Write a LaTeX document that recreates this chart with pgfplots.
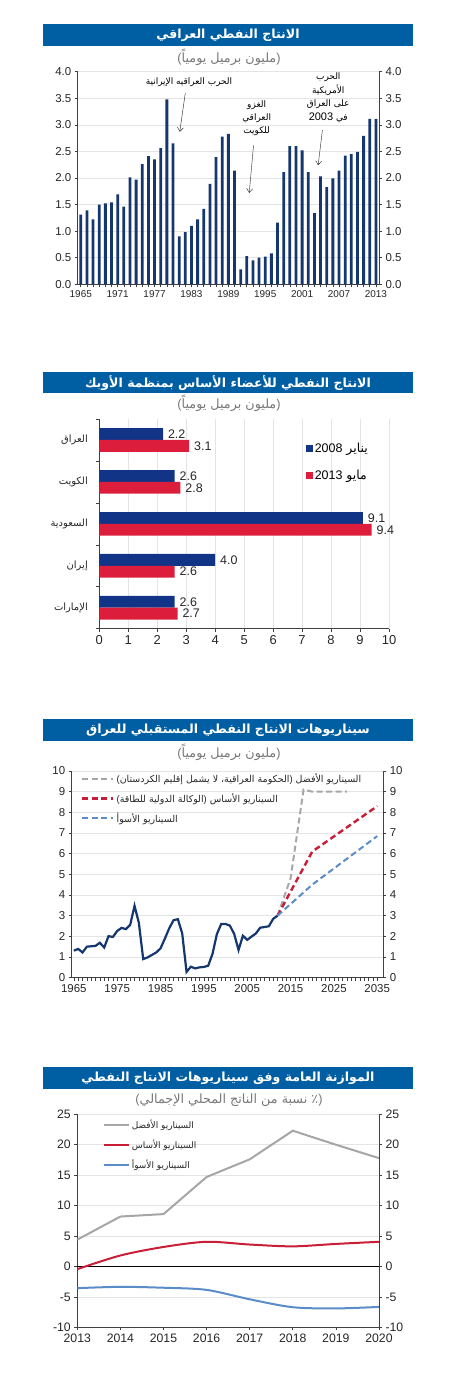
\documentclass[border=0pt]{standalone}
\usepackage{fontspec}
\setmainfont{Liberation Sans}
\newfontfamily\arabicfont[Script=Arabic]{DejaVu Sans}
\TeXXeTstate=1
\usepackage{pgfplots}
\usepackage{pgfplotstable}
\pgfplotsset{compat=1.18}
\usetikzlibrary{arrows.meta}

\definecolor{titleblue}{RGB}{0,94,162}
\definecolor{navy}{RGB}{22,54,110}
\definecolor{barblue}{RGB}{17,52,135}
\definecolor{barred}{RGB}{220,30,60}
\definecolor{gridc}{RGB}{228,228,228}
\definecolor{subgrey}{RGB}{120,120,120}
\definecolor{scgrey}{RGB}{166,166,166}
\definecolor{scred}{RGB}{200,30,55}
\definecolor{scblue}{RGB}{90,140,200}

\newcommand{\AR}[1]{{\arabicfont\beginR#1\endR}}
\newcommand{\LP}{{\rmfamily(}}
\newcommand{\RP}{{\rmfamily)}}
\newcommand{\titlefont}{\arabicfont\bfseries\fontsize{12.6}{15}\selectfont}
\newcommand{\subfont}{\fontsize{12.8}{15}\selectfont}

\pgfplotstableread{
year val
1965 1.31
1966 1.39
1967 1.22
1968 1.50
1969 1.52
1970 1.54
1971 1.69
1972 1.46
1973 2.01
1974 1.97
1975 2.26
1976 2.41
1977 2.35
1978 2.56
1979 3.48
1980 2.65
1981 0.90
1982 0.98
1983 1.10
1984 1.22
1985 1.42
1986 1.89
1987 2.39
1988 2.78
1989 2.83
1990 2.14
1991 0.28
1992 0.53
1993 0.45
1994 0.50
1995 0.52
1996 0.58
1997 1.16
1998 2.11
1999 2.60
2000 2.60
2001 2.52
2002 2.11
2003 1.34
2004 2.03
2005 1.83
2006 1.99
2007 2.14
2008 2.42
2009 2.45
2010 2.49
2011 2.79
2012 3.11
2013 3.11
}\dataA

\pgfplotstableread{
year val
1965 1.31
1966 1.39
1967 1.22
1968 1.50
1969 1.52
1970 1.54
1971 1.69
1972 1.46
1973 2.01
1974 1.97
1975 2.26
1976 2.41
1977 2.35
1978 2.56
1979 3.48
1980 2.65
1981 0.90
1982 0.98
1983 1.10
1984 1.22
1985 1.42
1986 1.89
1987 2.39
1988 2.78
1989 2.83
1990 2.14
1991 0.28
1992 0.53
1993 0.45
1994 0.50
1995 0.52
1996 0.58
1997 1.16
1998 2.11
1999 2.60
2000 2.60
2001 2.52
2002 2.11
2003 1.34
2004 2.03
2005 1.83
2006 1.99
2007 2.14
2008 2.42
2009 2.45
2010 2.49
2011 2.85
2012 3.00
}\dataHist

\pgfplotsset{
  base/.style={scale only axis, anchor=south west,
    axis line style={black!75, line width=0.6pt},
    tick style={black!75, line width=0.6pt},
    tick align=outside, major tick length=3bp, minor tick length=3bp,
    /pgf/number format/assume math mode=true,
    /pgf/number format/1000 sep={},
    ticklabel style={text=black!85},
    grid style={gridc, line width=0.5pt}},
  p1/.style={base, at={(77.7bp,1104.7bp)}, width=301.3bp, height=212.6bp,
    xmin=1964.5, xmax=2013.5, ymin=0, ymax=4,
    ytick={0,0.5,...,4},
    yticklabel style={font=\fontsize{11.5}{13}\selectfont, /pgf/number format/.cd, fixed, fixed zerofill, precision=1},
    xticklabel style={font=\fontsize{10}{12}\selectfont}},
  p3/.style={base, at={(71.7bp,411.3bp)}, width=311.6bp, height=206.7bp,
    xmin=1964.5, xmax=2036.4, ymin=0, ymax=10, ytick={0,...,10},
    ticklabel style={font=\fontsize{11.5}{13}\selectfont}},
  p4/.style={base, at={(77.3bp,61.7bp)}, width=301.7bp, height=213bp,
    xmin=2013, xmax=2020, ymin=-10, ymax=25, ytick={-10,-5,...,25},
    ticklabel style={font=\fontsize{12.3}{14}\selectfont}},
}

\begin{document}
\begin{tikzpicture}[x=1bp,y=1bp]
\path[use as bounding box] (0,0) rectangle (450,1389);

% ---------------- Panel 1 ----------------
\fill[titleblue] (43,1343.3) rectangle (413,1365);
\node[text=white, font=\titlefont] at (228,1354.2) {\AR{الانتاج النفطي العراقي}};
\node[text=subgrey, font=\subfont] at (229,1332) {\LP\AR{مليون برميل يومياً}\RP};

\begin{axis}[p1, axis x line*=bottom, axis y line*=left, ymajorgrids,
  xtick={1965,1971,...,2013}, minor xtick={1965,...,2013}]
\addplot[ybar, bar width=2.8bp, fill=navy, draw=none] table[x=year,y=val] {\dataA};
\node[font=\arabicfont\fontsize{9}{10}\selectfont] at (axis cs:1982.6,3.81) {\AR{الحرب العراقيه الإيرانية}};
\draw[black!85, -{Straight Barb[length=4bp,width=6bp]}] (axis cs:1982,3.6) -- (axis cs:1981.1,2.87);
\node[font=\arabicfont\fontsize{9}{13}\selectfont, align=center] at (axis cs:1993.6,3.13) {\AR{الغزو}\\\AR{العراقي}\\\AR{للكويت}};
\draw[black!85, -{Straight Barb[length=4bp,width=6bp]}] (axis cs:1993.1,2.62) -- (axis cs:1992.4,1.72);
\node[font=\arabicfont\fontsize{9}{13.5}\selectfont, align=center] at (axis cs:2005.25,3.51) {\AR{الحرب}\\\AR{الأمريكية}\\\AR{على العراق}\\\AR{في {\rmfamily\fontsize{11}{12}\selectfont 2003}}};
\draw[black!85, -{Straight Barb[length=4bp,width=6bp]}] (axis cs:2004.3,2.9) -- (axis cs:2003.6,2.24);
\end{axis}
\begin{axis}[p1, hide x axis, axis y line*=right]
\end{axis}

% ---------------- Panel 2 ----------------
\fill[titleblue] (43,995.7) rectangle (413,1017);
\node[text=white, font=\titlefont] at (228,1006.3) {\AR{الانتاج النفطي للأعضاء الأساس بمنظمة الأوبك}};
\node[text=subgrey, font=\subfont] at (229,986) {\LP\AR{مليون برميل يومياً}\RP};

\begin{axis}[base, at={(99.3bp,760.3bp)}, width=289.7bp, height=209.7bp,
  xmin=0, xmax=10, ymin=-0.5, ymax=4.5,
  axis x line*=bottom, axis y line*=left,
  xbar, bar width=11.8bp,
  xtick={0,...,10}, xmajorgrids,
  ytick={-0.5,0.5,...,4.5}, yticklabel=\empty,
  extra y ticks={0,1,2,3,4},
  extra y tick labels={\AR{الإمارات},\AR{إيران},\AR{السعودية},\AR{الكويت},\AR{العراق}},
  extra y tick style={major tick length=0pt, yticklabel style={font=\arabicfont\fontsize{10}{12}\selectfont, xshift=-8bp}},
  ticklabel style={font=\fontsize{13}{15}\selectfont},
  point meta=x,
  nodes near coords={\pgfmathprintnumber[fixed,fixed zerofill,precision=1]{\pgfplotspointmeta}},
  nodes near coords align={horizontal},
  every node near coord/.append style={font=\fontsize{12.5}{14}\selectfont, text=black!85, xshift=1.5bp},
  legend image code/.code={\fill[#1] (0bp,-3.5bp) rectangle (7bp,3.5bp);},
  legend style={at={(0.712,0.895)}, anchor=north west, draw=none, fill=none,
    row sep=12bp, inner sep=0pt, font=\fontsize{12.5}{14}\selectfont},
  legend cell align=left]
\addplot[fill=barblue, draw=none, bar shift=5.9bp] coordinates {(2.6,0) (4.0,1) (9.1,2) (2.6,3) (2.2,4)};
\addlegendentry{\AR{يناير {\rmfamily 2008}}}
\addplot[fill=barred, draw=none, bar shift=-5.9bp] coordinates {(2.7,0) (2.6,1) (9.4,2) (2.8,3) (3.1,4)};
\addlegendentry{\AR{مايو {\rmfamily 2013}}}
\end{axis}

% ---------------- Panel 3 ----------------
\fill[titleblue] (43,648) rectangle (413,670);
\node[text=white, font=\titlefont] at (228,659) {\AR{سيناريوهات الانتاج النفطي المستقبلي للعراق}};
\node[text=subgrey, font=\subfont] at (229,637) {\LP\AR{مليون برميل يومياً}\RP};

\begin{axis}[p3, axis x line*=bottom, axis y line*=left, ymajorgrids,
  xtick={1965,1975,...,2035}, minor xtick={1965,...,2035},
  legend image code/.code={\draw[#1] (0bp,0bp) -- (31bp,0bp);},
  legend style={at={(0.03,0.998)}, anchor=north west, draw=none, fill=none,
    row sep=5bp, inner sep=0pt, font=\fontsize{9.5}{11}\selectfont, text=black!85},
  legend cell align=left]
\addplot[navy, line width=2.2bp, forget plot] table[x=year,y=val] {\dataHist};
\addplot[scgrey, line width=2bp, dash pattern=on 6bp off 3.5bp] coordinates {(2012,3.0) (2015,4.8) (2018,9.1) (2020,9.0) (2028,9.0)};
\addlegendentry{\AR{السيناريو الأفضل \RP الحكومة العراقية\kern0pt، لا يشمل إقليم الكردستان\kern0pt\LP}}
\addplot[scred, line width=2.4bp, dash pattern=on 6bp off 3.5bp] coordinates {(2012,3.0) (2020,6.1) (2035,8.3)};
\addlegendentry{\AR{السيناريو الأساس \RP الوكالة الدولية للطاقة\kern0pt\LP}}
\addplot[scblue, line width=2bp, dash pattern=on 6bp off 3.5bp] coordinates {(2012,3.0) (2020,4.5) (2035,6.85)};
\addlegendentry{\AR{السيناريو الأسوأ}}
\end{axis}
\begin{axis}[p3, hide x axis, axis y line*=right]
\end{axis}

% ---------------- Panel 4 ----------------
\fill[titleblue] (43,300) rectangle (413,322);
\node[text=white, font=\titlefont] at (228,311) {\AR{الموازنة العامة وفق سيناريوهات الانتاج النفطي}};
\node[text=subgrey, font=\subfont] at (229,289) {\LP\AR{٪ نسبة من الناتج المحلي الإجمالي}\RP};

\begin{axis}[p4, axis x line*=bottom, axis y line*=left, ymajorgrids,
  xtick={2013,...,2020},
  extra y ticks={0}, extra y tick labels={},
  extra y tick style={grid=major, major grid style={black, line width=0.8pt}},
  legend image code/.code={\draw[#1] (0bp,0bp) -- (24.7bp,0bp);},
  legend style={at={(0.085,0.985)}, anchor=north west, draw=none, fill=none,
    row sep=6bp, inner sep=0pt, font=\fontsize{9}{11}\selectfont, text=black!85},
  legend cell align=left]
\addplot[scgrey, line width=2bp] coordinates {(2013,4.4) (2014,8.2) (2015,8.6) (2016,14.7) (2017,17.6) (2018,22.3) (2019,20.0) (2020,17.8)};
\addlegendentry{\AR{السيناريو الأفضل}}
\addplot[scred, line width=2bp, smooth] coordinates {(2013,-0.45) (2014,1.8) (2015,3.2) (2016,4.05) (2017,3.6) (2018,3.3) (2019,3.7) (2020,4.05)};
\addlegendentry{\AR{السيناريو الأساس}}
\addplot[scblue, line width=2bp, smooth] coordinates {(2013,-3.57) (2014,-3.35) (2015,-3.5) (2016,-3.85) (2017,-5.4) (2018,-6.7) (2019,-6.9) (2020,-6.65)};
\addlegendentry{\AR{السيناريو الأسوأ}}
\end{axis}
\begin{axis}[p4, hide x axis, axis y line*=right]
\end{axis}

\end{tikzpicture}
\end{document}
